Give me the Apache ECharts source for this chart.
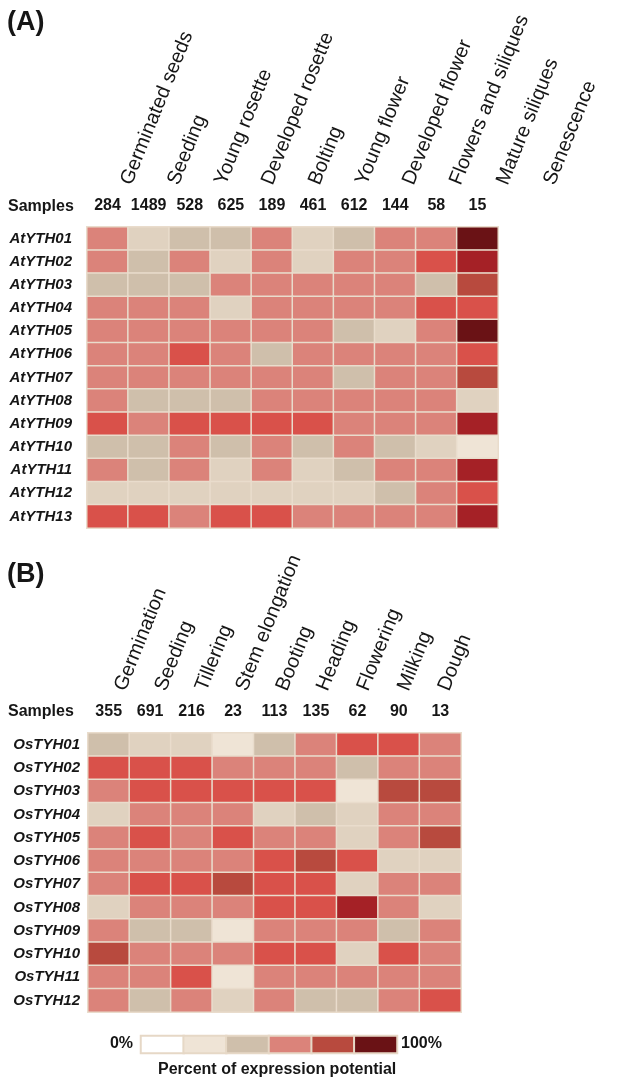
<!DOCTYPE html>
<html><head><meta charset="utf-8">
<script src="https://cdn.jsdelivr.net/npm/echarts@6/dist/echarts.min.js"></script>
<style>html,body{margin:0;padding:0;background:#fff}#c{width:644px;height:1081px}</style>
</head><body><div id="c"></div>
<script>
// Level codes: 0 white,1 very light beige,2 light beige,3 tan,4 pink,5 red,6 brick,7 crimson,8 maroon
const levelColors = ['#ffffff','#efe4d6','#e0d2c0','#cfbfab','#db837a','#d9514a','#b84a3e','#a52126','#6a1215'];

const stagesA = ['Germinated seeds','Seeding','Young rosette','Developed rosette','Bolting','Young flower','Developed flower','Flowers and siliques','Mature siliques','Senescence'];
const samplesA = ['284','1489','528','625','189','461','612','144','58','15'];
const genesA = ['AtYTH01','AtYTH02','AtYTH03','AtYTH04','AtYTH05','AtYTH06','AtYTH07','AtYTH08','AtYTH09','AtYTH10','AtYTH11','AtYTH12','AtYTH13'];
const levelsA = [
  [4,2,3,3,4,2,3,4,4,8],
  [4,3,4,2,4,2,4,4,5,7],
  [3,3,3,4,4,4,4,4,3,6],
  [4,4,4,2,4,4,4,4,5,5],
  [4,4,4,4,4,4,3,2,4,8],
  [4,4,5,4,3,4,4,4,4,5],
  [4,4,4,4,4,4,3,4,4,6],
  [4,3,3,3,4,4,4,4,4,2],
  [5,4,5,5,5,5,4,4,4,7],
  [3,3,4,3,4,3,4,3,2,1],
  [4,3,4,2,4,2,3,4,4,7],
  [2,2,2,2,2,2,2,3,4,5],
  [5,5,4,5,5,4,4,4,4,7]
];

const stagesB = ['Germination','Seeding','Tillering','Stem elongation','Booting','Heading','Flowering','Milking','Dough'];
const samplesB = ['355','691','216','23','113','135','62','90','13'];
const genesB = ['OsTYH01','OsTYH02','OsTYH03','OsTYH04','OsTYH05','OsTYH06','OsTYH07','OsTYH08','OsTYH09','OsTYH10','OsTYH11','OsTYH12'];
const levelsB = [
  [3,2,2,1,3,4,5,5,4],
  [5,5,5,4,4,4,3,4,4],
  [4,5,5,5,5,5,1,6,6],
  [2,4,4,4,2,3,2,4,4],
  [4,5,4,5,4,4,2,4,6],
  [4,4,4,4,5,6,5,2,2],
  [4,5,5,6,5,5,2,4,4],
  [2,4,4,4,5,5,7,4,2],
  [4,3,3,1,4,4,4,3,4],
  [6,4,4,4,5,5,2,5,4],
  [4,4,5,1,4,4,4,4,4],
  [4,3,4,2,4,3,3,4,5]
];

const legendLevels = [0,1,3,4,6,8];

function toCells(levels){
  const out=[];
  levels.forEach((row,r)=>row.forEach((v,c)=>out.push([c,r,v])));
  return out;
}

const txt = '#161616';
const FONT = '"Liberation Sans", Arial, sans-serif';

const chart = echarts.init(document.getElementById('c'), null, {renderer:'canvas'});
const hidden = {show:false};
// stage-name axes live on their own (invisible) grids: the printed labels are spread a little wider than the columns
function nameAxis(cats, grid){
  return {type:'category', gridIndex:grid, position:'top', data:cats,
    axisLine:hidden, axisTick:hidden, splitLine:hidden,
    axisLabel:{interval:0, rotate:-68, margin:0, fontSize:20, color:txt, fontFamily:FONT}};
}
function sampleAxis(cats, grid){
  return {type:'category', gridIndex:grid, position:'top', data:cats,
    axisLine:hidden, axisTick:hidden, splitLine:hidden,
    axisLabel:{interval:0, margin:13, fontSize:16, fontWeight:'bold', color:txt, fontFamily:FONT}};
}
function geneAxis(cats, grid, margin){
  return {type:'category', gridIndex:grid, data:cats, inverse:true,
    axisLine:hidden, axisTick:hidden, splitLine:hidden,
    axisLabel:{interval:0, margin:margin, fontSize:15, fontWeight:'bold', fontStyle:'italic', color:txt, fontFamily:FONT}};
}
function dummyY(grid){ return {type:'category', gridIndex:grid, data:[''], show:false}; }
const cellStyle = {borderColor:'#e9dccc', borderWidth:1.5};

chart.setOption({
  animation:false,
  backgroundColor:'#ffffff',
  textStyle:{fontFamily:FONT},
  grid:[
    {left:87, top:227, width:411, height:301},
    {left:88, top:733, width:373, height:279},
    {left:141, top:1036, width:256, height:17},
    {left:103, top:184, width:470, height:1},
    {left:100, top:690, width:364, height:1}
  ],
  xAxis:[
    sampleAxis(samplesA,0),
    sampleAxis(samplesB,1),
    {type:'category', gridIndex:2, data:legendLevels.map(String), show:false},
    nameAxis(stagesA,3),
    nameAxis(stagesB,4)
  ],
  yAxis:[
    geneAxis(genesA,0,15), geneAxis(genesB,1,8),
    {type:'category', gridIndex:2, data:['legend'], show:false},
    dummyY(3), dummyY(4)
  ],
  visualMap:{
    type:'piecewise', show:false, dimension:2, seriesIndex:[0,1,2],
    pieces: levelColors.map((c,i)=>({value:i, color:c}))
  },
  series:[
    {type:'heatmap', xAxisIndex:0, yAxisIndex:0, data:toCells(levelsA), itemStyle:cellStyle, emphasis:{disabled:true}},
    {type:'heatmap', xAxisIndex:1, yAxisIndex:1, data:toCells(levelsB), itemStyle:cellStyle, emphasis:{disabled:true}},
    {type:'heatmap', xAxisIndex:2, yAxisIndex:2, data:legendLevels.map((v,i)=>[i,0,v]),
      itemStyle:{borderColor:'#e6d8c6', borderWidth:2}, emphasis:{disabled:true}}
  ],
  graphic:[
    {type:'text', left:7, top:9, style:{text:'(A)', font:'bold 27px '+FONT, fill:txt}},
    {type:'text', left:7, top:561, style:{text:'(B)', font:'bold 27px '+FONT, fill:txt}},
    {type:'text', left:8, top:199, style:{text:'Samples', font:'bold 16px '+FONT, fill:txt}},
    {type:'text', left:8, top:704, style:{text:'Samples', font:'bold 16px '+FONT, fill:txt}},
    {type:'text', right:511, top:1036, style:{text:'0%', font:'bold 16px '+FONT, fill:txt}},
    {type:'text', left:401, top:1036, style:{text:'100%', font:'bold 16px '+FONT, fill:txt}},
    {type:'text', left:158, top:1062, style:{text:'Percent of expression potential', font:'bold 16px '+FONT, fill:txt}}
  ]
});
</script></body></html>
